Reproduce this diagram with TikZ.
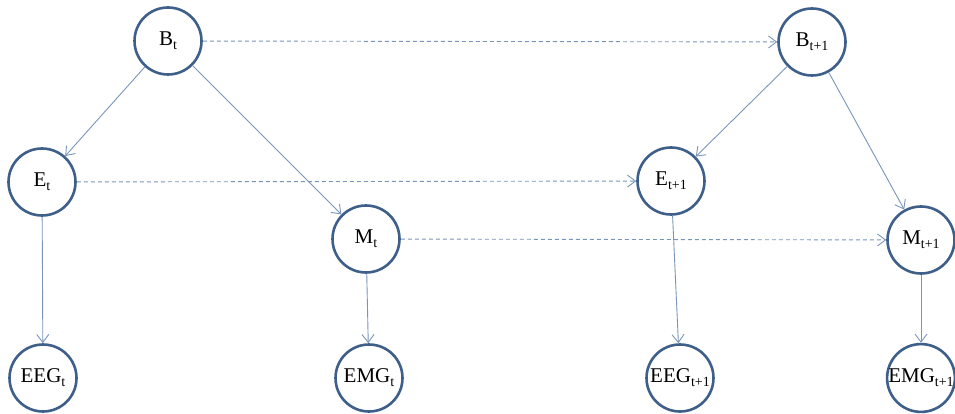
\documentclass[tikz,border=0pt]{standalone}
\usepackage{fontspec}
\setmainfont{Liberation Serif}
\usetikzlibrary{arrows.meta}
\definecolor{ringblue}{HTML}{3E5F8A}
\definecolor{linkblue}{HTML}{7A95BA}
\newcommand\lbl[2]{#1\raisebox{-4pt}{\fontsize{14}{14}\selectfont #2}}
\tikzset{
  state/.style={circle, draw=ringblue, line width=2.6pt, fill=white,
    minimum size=67pt, inner sep=0pt, font=\fontsize{21}{21}\selectfont},
  link/.style={draw=linkblue, line width=0.9pt,
    -{Straight Barb[length=8pt,width=12pt,line width=0.9pt]}},
  tlink/.style={link, dash pattern=on 4pt off 3pt}
}
\begin{document}
\begin{tikzpicture}[x=1pt,y=-1pt]
\useasboundingbox (0,0) rectangle (955,414);
% time slice t
\node[state] (Bt)    at (168,41)  {\lbl{B}{t}};
\node[state] (Et)    at (42,182)  {\lbl{E}{t}};
\node[state] (Mt)    at (366,239) {\lbl{M}{t}};
\node[state] (EEGt)  at (43,378)  {\lbl{EEG}{t}};
\node[state] (EMGt)  at (369,378) {\lbl{EMG}{t}};
% time slice t+1
\node[state] (Bn)    at (812,42)  {\lbl{B}{t+1}};
\node[state] (En)    at (671,181) {\lbl{E}{t+1}};
\node[state] (Mn)    at (921,240) {\lbl{M}{t+1}};
\node[state] (EEGn)  at (680,378) {\lbl{EEG}{t+1}};
\node[state] (EMGn)  at (921,378) {\lbl{EMG}{t+1}};
% dependencies within a slice
\draw[link] (Bt) -- (Et);
\draw[link] (Bt) -- (Mt);
\draw[link] (Et) -- (EEGt);
\draw[link] (Mt) -- (EMGt);
\draw[link] (Bn) -- (En);
\draw[link] (Bn) -- (Mn);
\draw[link] (En) -- (EEGn);
\draw[link] (Mn) -- (EMGn);
% transitions between slices
\draw[tlink] (Bt) -- (Bn);
\draw[tlink] (Et) -- (En);
\draw[tlink] (Mt) -- (Mn);
\end{tikzpicture}
\end{document}
